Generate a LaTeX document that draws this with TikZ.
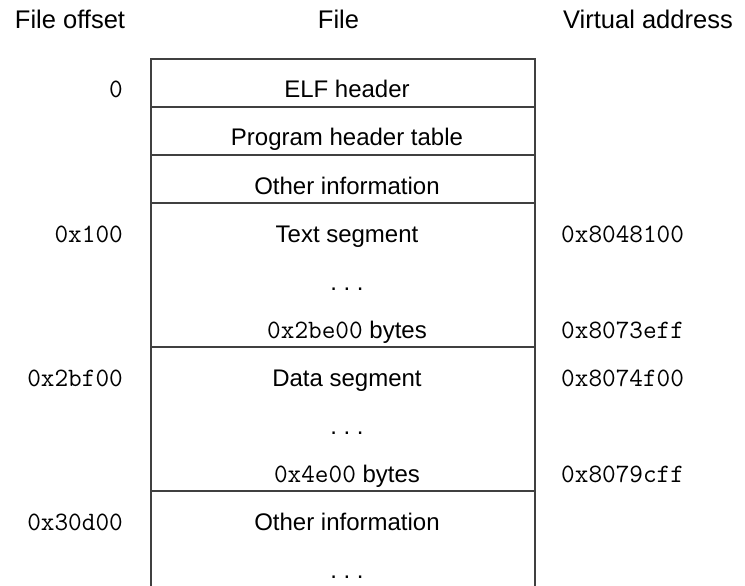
\documentclass[tikz,border=0pt]{standalone}
\usepackage{fontspec}
\setmainfont{Liberation Sans}
\begin{document}
\begin{tikzpicture}[x=1pt,y=-1pt,
  hdr/.style={anchor=base,inner sep=0pt,font=\fontsize{25.5}{30}\selectfont},
  cell/.style={anchor=base,inner sep=0pt,font=\fontsize{24}{28}\selectfont},
  offs/.style={anchor=base east,inner sep=0pt,font=\fontsize{26.5}{30}\ttfamily},
  vaddr/.style={anchor=base west,inner sep=0pt,font=\fontsize{26.5}{30}\ttfamily},
  frame/.style={line width=1.2pt,draw=black!75}]
\useasboundingbox (0,0) rectangle (745,586);

% column headings
\node[hdr] (hoff) at (70,29) {File offset};
\node[hdr] (hfile) at (338.5,29) {File};
\node[hdr] (hvirt) at (648,29) {Virtual address};

% file layout frame
\draw[frame] (151,586) -- (151,59) -- (535,59) -- (535,586);
\foreach \y in {107,155,203,347,491}
  \draw[frame] (151,\y) -- (535,\y);

% contents of the file
\node[cell] (elf)   at (347,98)  {ELF header};
\node[cell] (pht)   at (347,146) {Program header table};
\node[cell] (oth1)  at (347,194) {Other information};
\node[cell] (text)  at (347,242) {Text segment};
\node[cell] (tdots) at (347,290) {.\ .\ .};
\node[cell] (tsize) at (347,338) {{\fontsize{26.5}{30}\ttfamily 0x2be00} bytes};
\node[cell] (data)  at (347,386) {Data segment};
\node[cell] (ddots) at (347,434) {.\ .\ .};
\node[cell] (dsize) at (347,482) {{\fontsize{26.5}{30}\ttfamily 0x4e00} bytes};
\node[cell] (oth2)  at (347,530) {Other information};
\node[cell] (odots) at (347,578) {.\ .\ .};

% file offsets
\node[offs] (o0)    at (123,98)  {0};
\node[offs] (o100)  at (123,242) {0x100};
\node[offs] (o2bf)  at (123,386) {0x2bf00};
\node[offs] (o30d)  at (123,530) {0x30d00};

% virtual addresses
\node[vaddr] (v1) at (561,242) {0x8048100};
\node[vaddr] (v2) at (561,338) {0x8073eff};
\node[vaddr] (v3) at (561,386) {0x8074f00};
\node[vaddr] (v4) at (561,482) {0x8079cff};
\end{tikzpicture}
\end{document}
